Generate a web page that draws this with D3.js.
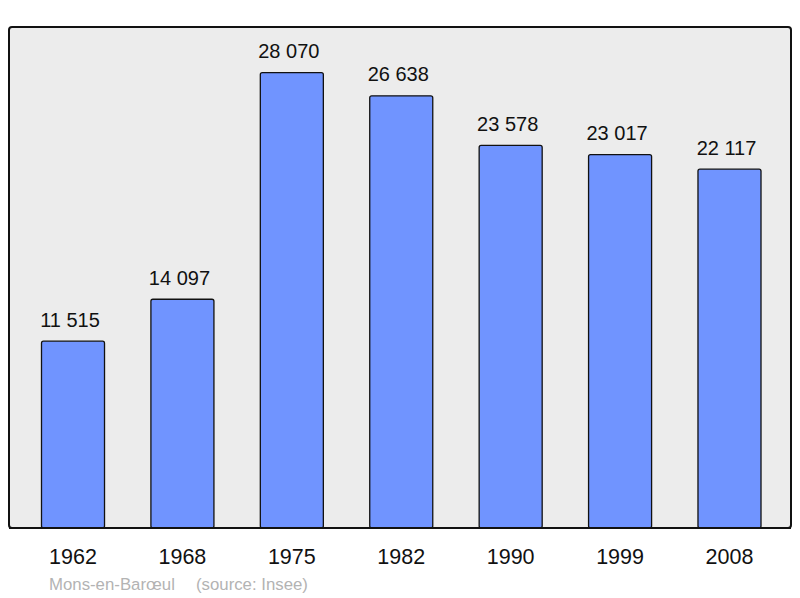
<!DOCTYPE html>
<html><head><meta charset="utf-8">
<script src="https://cdn.jsdelivr.net/npm/d3@7"></script>
<style>body{margin:0;background:#fff}svg{display:block}text{font-family:"Liberation Sans",Arial,sans-serif}</style>
</head><body>
<svg id="c" width="800" height="598"></svg>
<script>
const years = ["1962","1968","1975","1982","1990","1999","2008"];
const population = [11515,14097,28070,26638,23578,23017,22117];
const labels = ["11 515","14 097","28 070","26 638","23 578","23 017","22 117"];
const townName = "Mons-en-Barœul";
const sourceNote = "(source: Insee)";

const svg = d3.select("#c");
const panel = {x0: 9, y0: 27, x1: 791, y1: 528};

svg.append("rect").attr("x", panel.x0).attr("y", panel.y0)
  .attr("width", panel.x1 - panel.x0).attr("height", panel.y1 - panel.y0)
  .attr("rx", 3).attr("fill", "#ececec").attr("stroke", "#111").attr("stroke-width", 2);

const x = d3.scaleBand().domain(years).range([18.3, 784.2]).paddingInner(0.424).paddingOuter(0.212);
const y = d3.scaleLinear().domain([0, d3.max(population) * 1.1]).range([panel.y1, panel.y0]);

const data = years.map((yr, i) => ({yr, v: population[i], l: labels[i]}));

svg.selectAll("rect.bar").data(data).enter().append("rect").attr("class", "bar")
  .attr("x", d => x(d.yr)).attr("y", d => y(d.v))
  .attr("width", x.bandwidth()).attr("height", d => y(0) - y(d.v))
  .attr("rx", 2).attr("fill", "#7094ff").attr("stroke", "#111").attr("stroke-width", 1.3);

svg.append("line").attr("x1", panel.x0).attr("x2", panel.x1).attr("y1", panel.y1).attr("y2", panel.y1)
  .attr("stroke", "#111").attr("stroke-width", 2);

svg.selectAll("text.val").data(data).enter().append("text").attr("class", "val")
  .attr("x", d => x(d.yr) + x.bandwidth() / 2 - 3).attr("y", d => y(d.v) - 14.5)
  .attr("text-anchor", "middle").attr("font-size", 20).attr("fill", "#111").text(d => d.l);

const xAxis = d3.axisBottom(x).tickSize(0).tickPadding(0);
const ax = svg.append("g").attr("transform", `translate(0,${panel.y1})`).call(xAxis);
ax.select(".domain").remove();
ax.selectAll("text").attr("font-size", 21.5).attr("fill", "#111")
  .attr("font-family", '"Liberation Sans",Arial,sans-serif').attr("dy", 0).attr("y", 36);

svg.append("text").attr("x", 49).attr("y", 590).attr("font-size", 16.8).attr("fill", "#b3b3b3").text(townName);
svg.append("text").attr("x", 196).attr("y", 590).attr("font-size", 16.8).attr("fill", "#b3b3b3").text(sourceNote);
</script>
</body></html>
